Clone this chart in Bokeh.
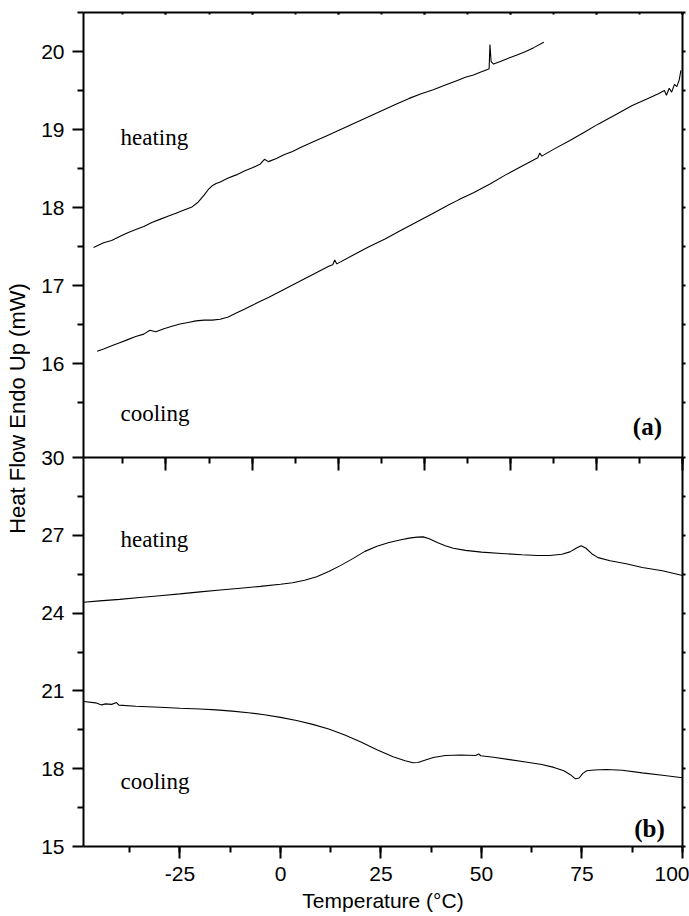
import math
from bokeh.plotting import figure
from bokeh.layouts import column, row
from bokeh.models import Range1d, FixedTicker, SingleIntervalTicker, LinearAxis, Label
from bokeh.embed import file_html
from bokeh.resources import INLINE

# ---------------- data ----------------
# panel (a)
heat_a_x = [-46.5, -44, -42, -40, -38, -36, -34, -32, -30, -28, -26, -24, -22, -20.5, -19, -18, -17, -16,
            -15, -13, -11, -9, -7, -5, -4, -3, -1, 1, 3, 5, 8, 11, 14, 17, 20, 23, 26, 29, 32, 35, 38, 41,
            44, 46, 48, 50, 51.5, 51.9, 52.1, 52.4, 53, 55, 57, 59, 61, 63, 65.5]
heat_a_y = [17.49, 17.55, 17.58, 17.63, 17.68, 17.72, 17.76, 17.81, 17.85, 17.89, 17.93, 17.97, 18.01, 18.07,
            18.16, 18.23, 18.28, 18.31, 18.33, 18.38, 18.42, 18.47, 18.51, 18.56, 18.62, 18.59, 18.63, 18.68,
            18.72, 18.77, 18.84, 18.91, 18.98, 19.05, 19.12, 19.19, 19.26, 19.33, 19.40, 19.46, 19.51, 19.57,
            19.63, 19.67, 19.70, 19.74, 19.77, 19.78, 20.09, 19.87, 19.84, 19.88, 19.92, 19.96, 20.00, 20.05, 20.12]

cool_a_x = [-45.6, -44, -42, -40, -38, -36, -34, -32.5, -31, -29, -27, -25, -23, -21, -19, -17, -15, -13, -11,
            -9, -7, -5, -3, 0, 3, 6, 9, 12, 13, 13.5, 14, 18, 22, 26, 30, 34, 38, 42, 44.3, 48, 52, 56, 60,
            64, 64.5, 65, 68, 72, 76, 79, 83, 87.5, 91, 94, 95.5, 96, 96.7, 97.3, 98, 98.6, 99.2, 99.6]
cool_a_y = [16.16, 16.19, 16.23, 16.27, 16.31, 16.35, 16.38, 16.43, 16.41, 16.45, 16.48, 16.51, 16.53, 16.55,
            16.56, 16.56, 16.57, 16.60, 16.65, 16.70, 16.75, 16.80, 16.85, 16.93, 17.01, 17.09, 17.17, 17.25,
            17.27, 17.33, 17.28, 17.39, 17.50, 17.60, 17.71, 17.82, 17.93, 18.04, 18.10, 18.19, 18.30, 18.42,
            18.53, 18.64, 18.70, 18.66, 18.75, 18.86, 18.98, 19.07, 19.18, 19.31, 19.39, 19.46, 19.50, 19.44,
            19.53, 19.48, 19.58, 19.55, 19.64, 19.76]

# panel (b)
heat_b_x = [-49, -45, -40, -35, -30, -25, -20, -15, -10, -5, 0, 3, 6, 9, 12, 15, 18, 21, 24, 27, 30, 32, 34,
            35.5, 37, 39, 41, 43, 46, 50, 55, 60, 64, 67, 70, 72, 73.5, 74.8, 76, 77.5, 79, 82, 86, 90, 95, 100]
heat_b_y = [24.42, 24.47, 24.53, 24.60, 24.67, 24.74, 24.82, 24.89, 24.96, 25.03, 25.11, 25.17, 25.27, 25.40,
            25.60, 25.84, 26.10, 26.38, 26.58, 26.72, 26.83, 26.89, 26.93, 26.94, 26.87, 26.72, 26.60, 26.50,
            26.42, 26.35, 26.30, 26.25, 26.22, 26.22, 26.27, 26.36, 26.50, 26.60, 26.50, 26.28, 26.14, 26.02,
            25.90, 25.76, 25.63, 25.45]

cool_b_x = [-48.9, -46, -44.5, -43.5, -42, -40.8, -40.2, -36, -30, -25, -20, -16, -12, -8, -4, 0, 4, 8, 12,
            16, 20, 24, 28, 31, 33, 34.2, 35.5, 38, 41, 45, 48.5, 49.3, 49.8, 53, 57, 61, 65, 68, 70.5, 72,
            73.4, 74.3, 75.2, 76.2, 78, 81, 85, 90, 95, 100]
cool_b_y = [20.59, 20.54, 20.46, 20.50, 20.48, 20.55, 20.45, 20.41, 20.37, 20.33, 20.30, 20.27, 20.22, 20.16,
            20.08, 19.98, 19.86, 19.71, 19.53, 19.30, 19.03, 18.73, 18.46, 18.31, 18.23, 18.24, 18.31, 18.43,
            18.51, 18.53, 18.51, 18.57, 18.50, 18.44, 18.35, 18.26, 18.16, 18.05, 17.92, 17.78, 17.61, 17.64,
            17.82, 17.92, 17.95, 17.97, 17.94, 17.84, 17.75, 17.65]

# ticks
a_y_ticks = [16, 17, 18, 19, 20]
a_y_minor = [15.5, 16.5, 17.5, 18.5, 19.5, 20.5]
b_y_ticks = [15, 18, 21, 24, 27, 30]
b_y_minor = [16.5, 19.5, 22.5, 25.5, 28.5]
x_tick_interval = 25
x_tick_labels = {-25: "-25", 0: "0", 25: "25", 50: "50", 75: "75", 100: "100"}
top_tick_interval = 10

# annotations (text, x, y)
notes_a = [("heating", -39.8, 18.90), ("cooling", -39.8, 15.37)]
notes_b = [("heating", -39.8, 26.83), ("cooling", -39.8, 17.50)]
tag_a = ("(a)", 94.9, 15.20)
tag_b = ("(b)", 95.6, 15.69)
y_title = "Heat Flow Endo Up (mW)"
x_title = "Temperature (°C)"

SANS = "Liberation Sans"
SERIF = "Liberation Serif"


def style(ax, out=0, inn=0, mout=0, minn=0, labels=False):
    ax.axis_line_color = "black"
    ax.axis_line_width = 2
    ax.major_tick_line_color = "black"
    ax.major_tick_line_width = 2
    ax.minor_tick_line_color = "black"
    ax.minor_tick_line_width = 2
    ax.major_tick_out = out
    ax.major_tick_in = inn
    ax.minor_tick_out = mout
    ax.minor_tick_in = minn
    if labels:
        ax.major_label_text_font = SANS
        ax.major_label_text_font_size = "21px"
        ax.major_label_text_color = "black"
    else:
        ax.major_label_text_color = None
        ax.major_label_text_font_size = "0px"
        ax.major_label_standoff = 0


# ---------------- y-axis title strip ----------------
p0 = figure(width=30, height=916, x_range=Range1d(0, 30), y_range=Range1d(916, 0),
            x_axis_location=None, y_axis_location=None, toolbar_location=None, output_backend="svg",
            min_border=0)
p0.grid.visible = False
p0.outline_line_color = None
p0.add_layout(Label(x=17, y=408, text=y_title, angle=math.pi / 2,
                    text_font=SANS, text_font_size="22px", text_color="black",
                    text_align="center", text_baseline="middle"))

# ---------------- panel (a) ----------------
p1 = figure(frame_width=599, frame_height=445, x_range=Range1d(-49, 100), y_range=Range1d(14.8, 20.5),
            x_axis_location=None, y_axis_location=None, toolbar_location=None, output_backend="svg",
            min_border_left=53, min_border_right=7, min_border_top=12, min_border_bottom=0)
p1.extra_x_ranges = {"top": Range1d(-9.58, 60)}
p1.grid.visible = False
p1.outline_line_color = None

la = LinearAxis(ticker=FixedTicker(ticks=a_y_ticks, minor_ticks=a_y_minor))
style(la, out=11, mout=6, labels=True)
la.major_label_standoff = 8
p1.add_layout(la, "left")
ra = LinearAxis(ticker=FixedTicker(ticks=a_y_ticks, minor_ticks=a_y_minor))
style(ra, out=3, mout=3)
p1.add_layout(ra, "right")
ta = LinearAxis(x_range_name="top", ticker=SingleIntervalTicker(interval=top_tick_interval, num_minor_ticks=2))
style(ta, inn=2, minn=2)
p1.add_layout(ta, "above")

p1.line(heat_a_x, heat_a_y, line_color="black", line_width=1.1)
p1.line(cool_a_x, cool_a_y, line_color="black", line_width=1.1)
for t, x, y in notes_a:
    p1.add_layout(Label(x=x, y=y, text=t, text_font=SERIF, text_font_size="23px", text_color="black",
                        text_align="left", text_baseline="alphabetic"))
p1.add_layout(Label(x=tag_a[1], y=tag_a[2], text=tag_a[0], text_font=SERIF, text_font_size="25px",
                    text_font_style="bold", text_color="black", text_align="right", text_baseline="alphabetic"))

# ---------------- panel (b) ----------------
p2 = figure(frame_width=599, frame_height=389, x_range=Range1d(-49, 100), y_range=Range1d(15, 30),
            x_axis_location=None, y_axis_location=None, toolbar_location=None, output_backend="svg",
            min_border_left=53, min_border_right=7, min_border_top=457, min_border_bottom=0,
            margin=(-457, 0, 0, 0))
p2.extra_x_ranges = {"top": Range1d(-9.58, 60)}
p2.grid.visible = False
p2.outline_line_color = None
p2.border_fill_color = None
p2.background_fill_color = None

lb = LinearAxis(ticker=FixedTicker(ticks=b_y_ticks, minor_ticks=b_y_minor))
style(lb, out=11, mout=6, labels=True)
lb.major_label_standoff = 8
p2.add_layout(lb, "left")
rb = LinearAxis(ticker=FixedTicker(ticks=b_y_ticks, minor_ticks=b_y_minor))
style(rb, out=3, mout=3)
p2.add_layout(rb, "right")
tb = LinearAxis(x_range_name="top", ticker=SingleIntervalTicker(interval=top_tick_interval, num_minor_ticks=2))
style(tb, inn=13, minn=6)
p2.add_layout(tb, "above")
bb = LinearAxis(ticker=SingleIntervalTicker(interval=x_tick_interval, num_minor_ticks=2))
style(bb, out=12, mout=6, labels=True)
bb.major_label_overrides = x_tick_labels
bb.major_label_standoff = 8
bb.axis_label = x_title
bb.axis_label_text_font = SANS
bb.axis_label_text_font_size = "21px"
bb.axis_label_text_font_style = "normal"
bb.axis_label_text_color = "black"
bb.axis_label_standoff = 5
p2.add_layout(bb, "below")

p2.line(heat_b_x, heat_b_y, line_color="black", line_width=1.1)
p2.line(cool_b_x, cool_b_y, line_color="black", line_width=1.1)
for t, x, y in notes_b:
    p2.add_layout(Label(x=x, y=y, text=t, text_font=SERIF, text_font_size="23px", text_color="black",
                        text_align="left", text_baseline="alphabetic"))
p2.add_layout(Label(x=tag_b[1], y=tag_b[2], text=tag_b[0], text_font=SERIF, text_font_size="25px",
                    text_font_style="bold", text_color="black", text_align="right", text_baseline="alphabetic"))

layout = row(p0, column(p1, p2))
open("out.html", "w").write(file_html(layout, INLINE))
